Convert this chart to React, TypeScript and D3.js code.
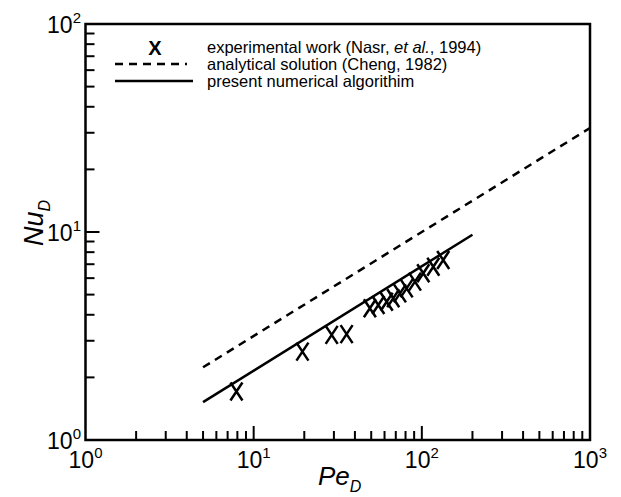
import React from 'react';
import * as d3 from 'd3';

// ---- data ----
const xDomain: [number, number] = [1, 1000];
const yDomain: [number, number] = [1, 100];
const xMajorExps = [0, 1, 2, 3];
const yMajorExps = [0, 1, 2];

// experimental work (Nasr et al., 1994)
const expPe = [7.9, 19.5, 29.1, 35.7, 49.1, 55.1, 61.8, 67.6, 74.1, 81.2, 91.0, 102, 117, 134];
const expNu = [1.71, 2.66, 3.2, 3.23, 4.3, 4.46, 4.62, 4.8, 5.07, 5.36, 5.77, 6.33, 6.81, 7.33];

// analytical solution (Cheng, 1982)
const anaPe = [5, 1000];
const anaNu = [2.236, 31.62];

// present numerical algorithm
const numPe = [5, 200];
const numNu = [1.52, 9.7];

const FONT = '"Liberation Sans", Arial, Helvetica, sans-serif';

export default function App() {
  const W = 621, H = 497;
  const L = 85.5, R = 590, T = 24, B = 440;
  const x = d3.scaleLog().domain(xDomain).range([L, R]);
  const y = d3.scaleLog().domain(yDomain).range([B, T]);
  const line = d3.line<[number, number]>().x(d => x(d[0])).y(d => y(d[1]));

  const anaData = anaPe.map((p, i) => [p, anaNu[i]] as [number, number]);
  const numData = numPe.map((p, i) => [p, numNu[i]] as [number, number]);

  const isMajor = (v: number) => Math.abs(Math.log10(v) - Math.round(Math.log10(v))) < 1e-9;
  const xTicks = x.ticks();
  const yTicks = y.ticks();

  const xMark = (cx: number, cy: number) => {
    const hw = 6, hh = 9;
    return `M${cx - hw},${cy - hh}L${cx + hw},${cy + hh}M${cx + hw},${cy - hh}L${cx - hw},${cy + hh}`;
  };

  return (
    <svg width={W} height={H} style={{ position: 'absolute', left: 0, top: 0, background: '#fff' }} fontFamily={FONT}>
      {/* ticks */}
      {xTicks.filter(v => v > xDomain[0] && v < xDomain[1]).map((v, i) => (
        <line key={'xt' + i} x1={x(v)} x2={x(v)} y1={B} y2={B - (isMajor(v) ? 14 : 9)} stroke="#000" strokeWidth={2} />
      ))}
      {yTicks.filter(v => v > yDomain[0] && v < yDomain[1]).map((v, i) => (
        <line key={'yt' + i} x1={L} x2={L + (isMajor(v) ? 14 : 9)} y1={y(v)} y2={y(v)} stroke="#000" strokeWidth={2} />
      ))}
      {/* frame */}
      <rect x={L} y={T} width={R - L} height={B - T} fill="none" stroke="#000" strokeWidth={2.5} />

      {/* x tick labels */}
      {xMajorExps.map(e => (
        <text key={'xl' + e} x={x(Math.pow(10, e))} y={468} textAnchor="middle" fontSize={23} fill="#000">
          10<tspan fontSize={15} dy={-10}>{e}</tspan>
        </text>
      ))}
      {/* y tick labels */}
      {yMajorExps.map(e => (
        <text key={'yl' + e} x={81} y={y(Math.pow(10, e)) + 8.5} textAnchor="end" fontSize={23} fill="#000">
          10<tspan fontSize={15} dy={-10}>{e}</tspan>
        </text>
      ))}

      {/* axis titles */}
      <text x={318} y={485} fontSize={26} fontStyle="italic" fill="#000">
        Pe<tspan fontSize={16} dy={7}>D</tspan>
      </text>
      <text transform={`translate(43,246) rotate(-90)`} fontSize={27} fontStyle="italic" fill="#000">
        Nu<tspan fontSize={16} dy={7}>D</tspan>
      </text>

      {/* series */}
      <path d={line(anaData) || ''} fill="none" stroke="#000" strokeWidth={2.5} strokeDasharray="8,6" />
      <path d={line(numData) || ''} fill="none" stroke="#000" strokeWidth={2.5} />
      {expPe.map((p, i) => (
        <path key={'m' + i} d={xMark(x(p), y(expNu[i]))} stroke="#000" strokeWidth={2.5} fill="none" />
      ))}

      {/* legend */}
      <text x={155} y={55} textAnchor="middle" fontSize={20} fontWeight="bold" fill="#000">X</text>
      <line x1={115} x2={187} y1={64} y2={64} stroke="#000" strokeWidth={2.5} strokeDasharray="8,6" />
      <line x1={115} x2={193} y1={81} y2={81} stroke="#000" strokeWidth={2.5} />
      <text x={207} y={53} fontSize={16.5} fill="#000">
        experimental work (Nasr, <tspan fontStyle="italic">et al.</tspan>, 1994)
      </text>
      <text x={207} y={70} fontSize={16.5} fill="#000">analytical solution (Cheng, 1982)</text>
      <text x={207} y={87} fontSize={16.5} fill="#000">present numerical algorithim</text>
    </svg>
  );
}
